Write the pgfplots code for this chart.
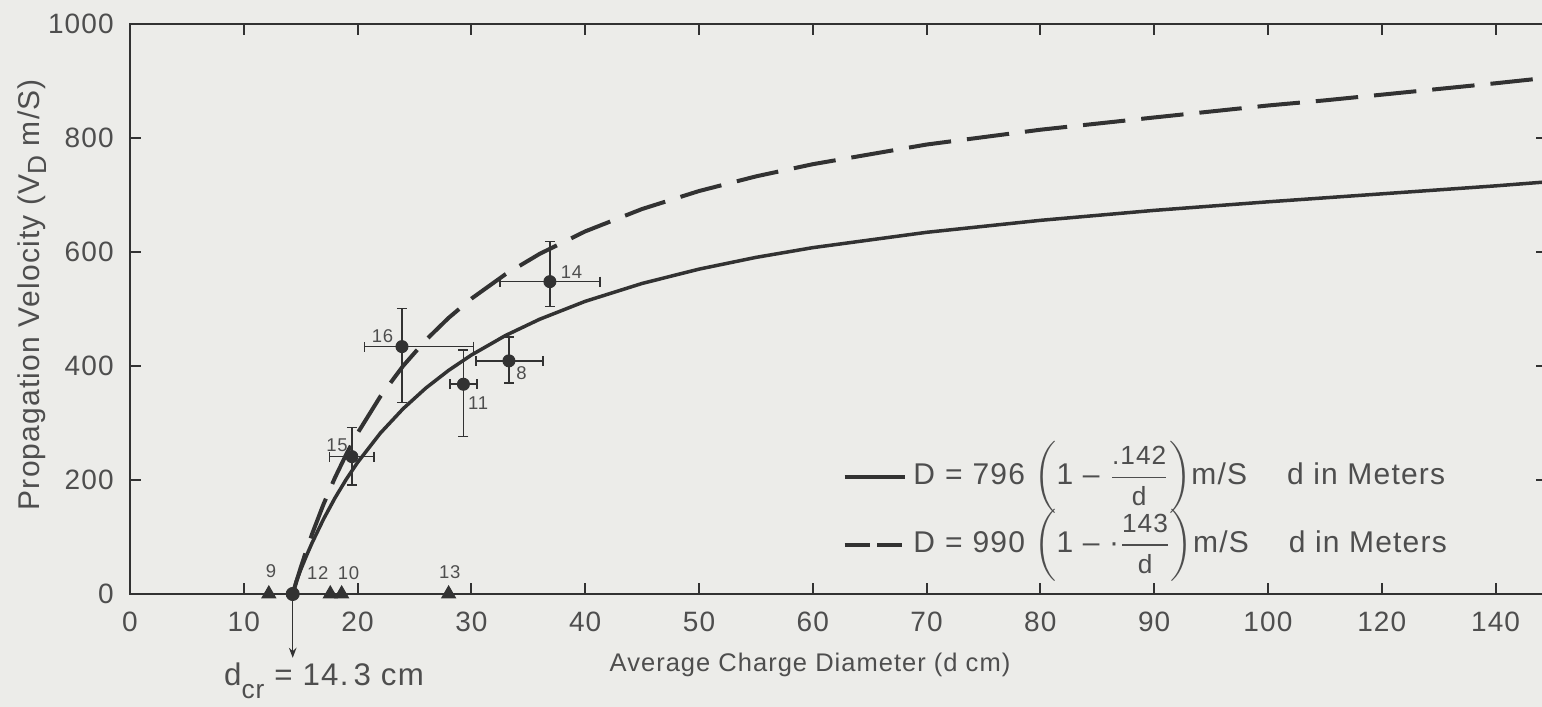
\documentclass[border=0pt]{standalone}
\usepackage{pgfplots}
\pgfplotsset{compat=1.18}
\usetikzlibrary{arrows.meta}
\usepackage{amsmath}
\usepackage{fontspec}
\setmainfont{Liberation Sans}[LetterSpace=4]
\definecolor{paper}{RGB}{236,236,233}
\definecolor{ink}{RGB}{50,50,50}
\definecolor{inktext}{RGB}{78,78,78}
\newcommand{\fr}[2]{\dfrac{\text{\fontsize{10.5}{11}\selectfont #1}}{\text{\fontsize{10.5}{11}\selectfont #2}}}

\begin{document}
\begin{tikzpicture}
% page = scanned sheet, right spine falls just outside
\path[use as bounding box, fill=paper] (-52pt,-45.2pt) rectangle (564.8pt,237.6pt);
\begin{axis}[
  at={(0,0)}, anchor=south west,
  scale only axis, width=566.7pt, height=228pt,
  xmin=0, xmax=124.5, ymin=0, ymax=1000,
  % x axis is compressed by 2 beyond 100 cm
  xtick={0,10,20,30,40,50,60,70,80,90,100,110,120},
  xticklabels={0,10,20,30,40,50,60,70,80,90,100,120,140},
  ytick={0,200,400,600,800,1000},
  yticklabels={0,200,400,600,800,1000},
  axis line style={ink, line width=1pt},
  tick style={ink, line width=0.8pt},
  major tick length=4.5pt,
  every tick label/.append style={font=\fontsize{11.2}{13}\selectfont, text=inktext},
  xticklabel style={yshift=-3.5pt},
  yticklabel style={xshift=-3pt},
  xlabel={Average Charge Diameter (d cm)},
  ylabel={Propagation Velocity (V\raisebox{-0.45ex}{\fontsize{10.5}{11}\selectfont D} m/S)},
  xlabel style={at={(axis description cs:0.480,-0.125)}, anchor=center,
    font=\fontsize{10.2}{12}\selectfont, text=inktext},
  ylabel style={at={(axis description cs:-0.069,0.525)}, anchor=center,
    font=\fontsize{12}{14}\selectfont, text=inktext},
  clip=false,
]

% D = 796 (1 - .142/d)
\addplot[ink, line width=1.4pt] coordinates {
  (14.3,0)(14.6,21.8)(15,42.5)(15.5,66.8)(16,89.6)(17,131.1)(18,168.0)(19,201.1)
  (20,230.8)(22,282.2)(24,325.0)(26,361.3)(28,392.3)(30,419.2)(33,453.5)
  (36,482.0)(40,513.4)(45,544.8)(50,569.9)(55,590.5)(60,607.6)(70,634.5)
  (80,655.5)(90,673)(100,688)(105,695)(110,702)(115,709)
  (120,716)(124.5,723)
};

% D = 990 (1 - .143/d)
\addplot[ink, line width=1.6pt, dash pattern=on 17pt off 6.4pt] coordinates {
  (14.3,0)(14.6,20.3)(15,46.2)(15.5,76.6)(16,105.2)(17,157.2)(18,203.5)(19,244.9)
  (20,282.2)(22,346.5)(24,400.1)(26,445.5)(28,484.4)(30,518.1)(33,561.0)
  (36,596.7)(40,636.1)(45,675.4)(50,706.9)(55,732.6)(60,754.0)(70,788.5)
  (80,814.5)(90,836)(100,857)(105,866)(110,876)(115,886)
  (120,896)(123.3,903)
};

% measured shots with error bars
\addplot[only marks, mark=*, mark size=2.4pt, ink,
  error bars/.cd, x dir=both, y dir=both, x explicit, y explicit,
  error bar style={line width=0.6pt, ink},
  error mark options={rotate=90, line width=0.6pt, mark size=2pt, ink}]
  coordinates {
  (36.9,548) += (4.4,70) -= (4.4,44)
  (23.9,434) += (6.3,67) -= (3.3,98)
  (29.3,368) += (1.2,60) -= (1.2,92)
  (33.3,409) += (3.0,42) -= (2.9,39)
  (19.5,241) += (1.95,51) -= (1.95,50)
};

% no propagation
\addplot[only marks, mark=triangle*, mark size=3.2pt, ink] coordinates {
  (12.2,0)(17.6,0)(18.6,0)(28.0,0)
};
% critical diameter
\addplot[only marks, mark=*, mark size=2.6pt, ink] coordinates {(14.3,0)};

\draw[ink, line width=0.6pt, -{Stealth[length=4pt,width=3pt]}]
  (axis cs:14.3,0) -- (axis cs:14.3,-112);
\node[font=\fontsize{12.5}{14}\selectfont, text=inktext] at (axis cs:17.05,-152)
  {d\raisebox{-0.8ex}{\fontsize{10.5}{12}\selectfont cr} = 14.\,3 cm};

% shot numbers
\begin{scope}[every node/.style={font=\fontsize{7.4}{8}\selectfont, text=inktext, inner sep=0pt}]
\node at (axis cs:12.4,40) {9};
\node at (axis cs:16.5,37) {12};
\node at (axis cs:19.2,37) {10};
\node at (axis cs:28.1,39) {13};
\node at (axis cs:18.2,261) {15};
\node at (axis cs:22.2,453) {16};
\node at (axis cs:30.6,335) {11};
\node at (axis cs:34.4,388) {8};
\node at (axis cs:38.8,565) {14};
\end{scope}

% legend
\draw[ink, line width=1.4pt] (axis cs:62.8,205) -- (axis cs:68.1,205);
\node[anchor=west, font=\fontsize{12}{14}\selectfont, text=inktext, inner sep=0pt]
  at (axis cs:68.8,205)
  {D\,\,=\,\,796 $\left(\text{1 -- }\fr{.142}{d}\right)$m/S\hspace{16pt}d in Meters};
\draw[ink, line width=1.6pt, dash pattern=on 10pt off 3pt] (axis cs:62.8,86) -- (axis cs:68.1,86);
\node[anchor=west, font=\fontsize{12}{14}\selectfont, text=inktext, inner sep=0pt]
  at (axis cs:68.8,86)
  {D\,\,=\,\,990 $\left(\text{1 -- ·}\fr{143}{d}\right)$m/S\hspace{16pt}d in Meters};
\end{axis}
\end{tikzpicture}
\end{document}
